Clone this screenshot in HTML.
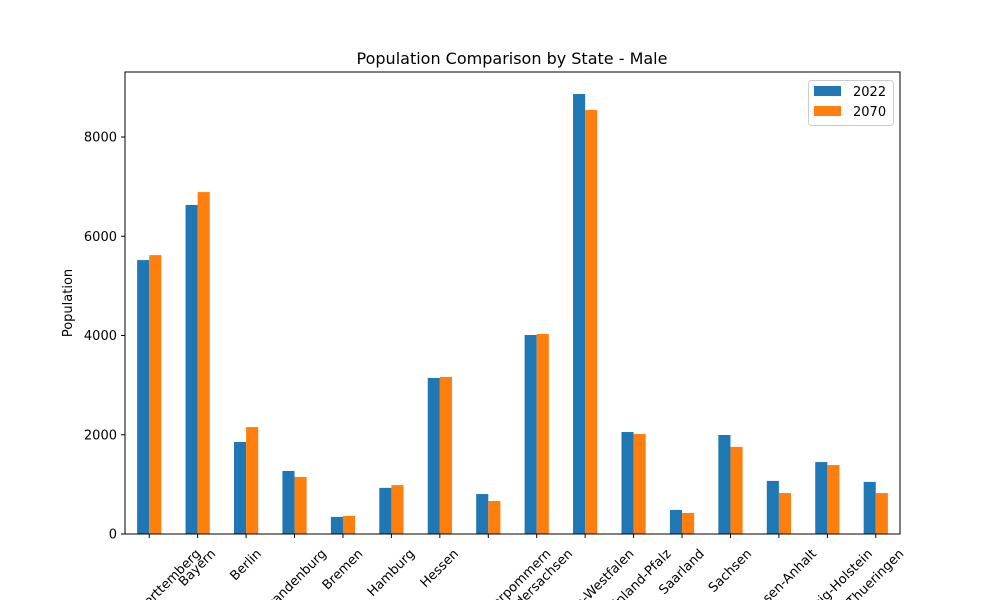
<!DOCTYPE html>
<html><head><meta charset="utf-8">
<style>
html,body{margin:0;background:#fff;width:1000px;height:600px;overflow:hidden;}
svg{display:block;font-family:"DejaVu Sans","Liberation Sans",sans-serif;overflow:hidden;}
</style></head>
<body>
<svg id="chart" width="1000" height="600" viewBox="0 0 1000 600">
<text x="512" y="64" text-anchor="middle" font-size="16" fill="#000">Population Comparison by State - Male</text>
<text transform="translate(72,303) rotate(-90)" text-anchor="middle" font-size="13" fill="#000">Population</text>
<g id="bars"></g>
<g id="yticks"></g>
<g id="xticks"></g>
<rect x="125" y="72" width="775" height="462" fill="none" stroke="#000" stroke-width="1"/>
<g>
<rect x="808.5" y="80.5" width="85" height="45" rx="3" fill="#fff" fill-opacity="0.8" stroke="#ccc"/>
<rect x="814" y="86" width="27" height="10" fill="#1f77b4"/>
<text x="853" y="96" font-size="13">2022</text>
<rect x="814" y="106" width="27" height="10" fill="#ff7f0e"/>
<text x="853" y="116" font-size="13">2070</text>
</g>
</svg>
<script>
const categories = ["Baden-Wuerttemberg","Bayern","Berlin","Brandenburg","Bremen","Hamburg","Hessen","Mecklenburg-Vorpommern","Niedersachsen","Nordrhein-Westfalen","Rheinland-Pfalz","Saarland","Sachsen","Sachsen-Anhalt","Schleswig-Holstein","Thueringen"];
const values2022 = [5520,6630,1855,1270,345,930,3145,805,4010,8866,2055,485,1995,1070,1450,1050];
const values2070 = [5620,6890,2155,1150,365,985,3165,665,4030,8545,2015,425,1755,825,1390,825];
const yTicks = [0,2000,4000,6000,8000];
const NS="http://www.w3.org/2000/svg";
const X0=125,X1=900,Y0=534,YMAX=9310;
const step=(X1-X0)/categories.length;
function xCenter(i){return X0+step*(i+0.5);}
function yScale(v){return Y0-v*(Y0-72)/YMAX;}
function mk(tag,attrs,parent){const e=document.createElementNS(NS,tag);for(const k in attrs)e.setAttribute(k,attrs[k]);parent.appendChild(e);return e;}
const bars=document.getElementById('bars'),yt=document.getElementById('yticks'),xt=document.getElementById('xticks');
const bw=step*0.25;
categories.forEach((c,i)=>{
  const cx=xCenter(i);
  const b1=mk('rect',{x:cx-bw,y:yScale(values2022[i]),width:bw,height:Y0-yScale(values2022[i]),fill:'#1f77b4'},bars);
  
  
  const b2=mk('rect',{x:cx,y:yScale(values2070[i]),width:bw,height:Y0-yScale(values2070[i]),fill:'#ff7f0e'},bars);
  
  
  const tk=mk('line',{x1:cx,x2:cx,y1:Y0,y2:Y0+4,stroke:'#000'},xt);
  
  
  const t=mk('text',{'font-size':'13','text-anchor':'middle','dominant-baseline':'central'},xt);
  t.textContent=c;
  
  
  const w=t.getComputedTextLength();
  const cy=547+(w+14)*0.3536;
  t.setAttribute('transform','translate('+cx+','+cy+') rotate(-45)');
});
yTicks.forEach(v=>{
  const y=yScale(v);
  const tk=mk('line',{x1:X0-4,x2:X0,y1:y,y2:y,stroke:'#000'},yt);
  
  
  const t=mk('text',{x:X0-8,y:y+4.5,'font-size':'13','text-anchor':'end'},yt);
  t.textContent=v;
  
  
});
</script>
</body></html>
